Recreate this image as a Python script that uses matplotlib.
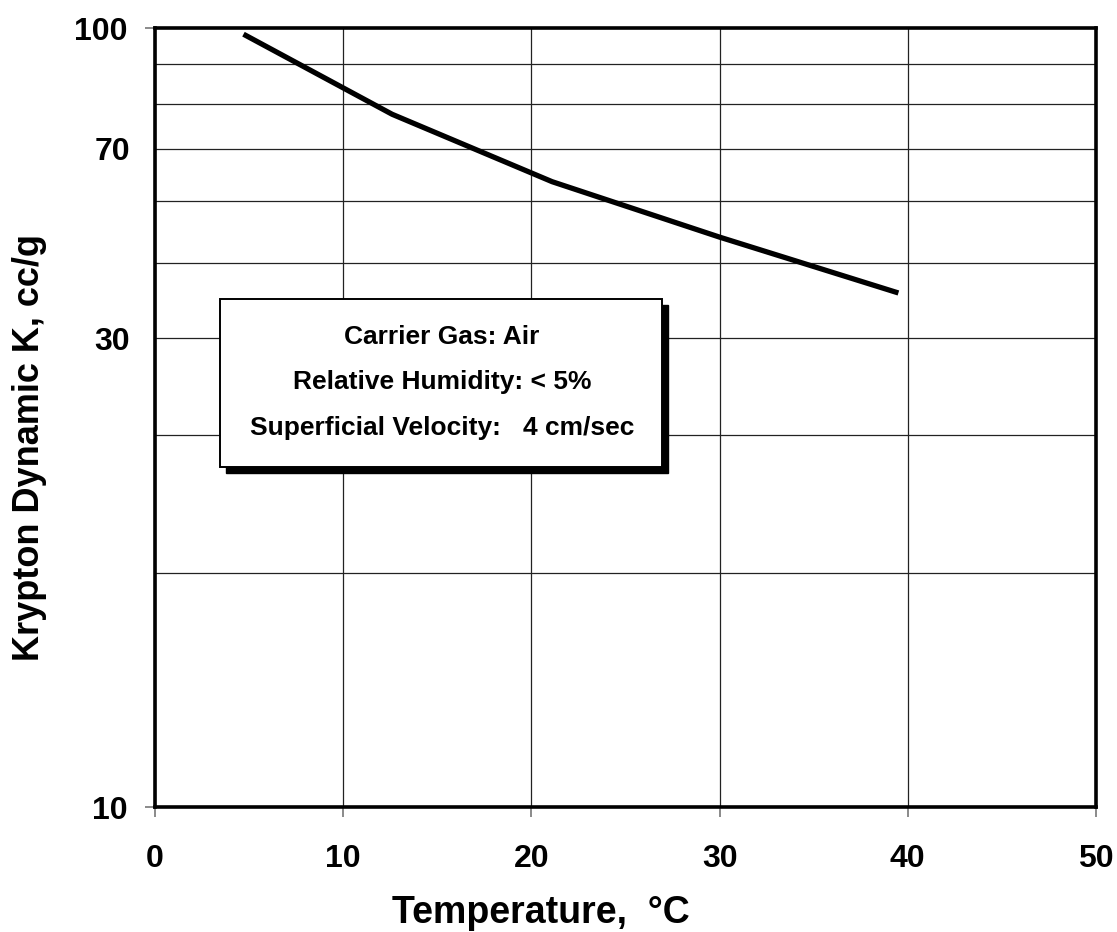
import matplotlib
matplotlib.use("Agg")
import matplotlib.pyplot as plt
from matplotlib.patches import Rectangle
from matplotlib.ticker import FixedLocator, FixedFormatter

plt.rcParams['font.family'] = ['Liberation Sans', 'DejaVu Sans']
plt.rcParams['font.weight'] = 'bold'

# curve
temperature = [4.7, 12.6, 21.1, 30.0, 39.5]
k_dynamic = [98.2, 77.5, 63.5, 53.9, 45.7]

x_ticks = [0, 10, 20, 30, 40, 50]
y_grid = [20, 30, 40, 50, 60, 70, 80, 90]
# the original sheet labels the 40 line as "30"
y_label_pos = [40, 70]
y_label_txt = ['30', '70']

box_lines = ['Carrier Gas: Air',
             'Relative Humidity: < 5%',
             'Superficial Velocity:   4 cm/sec']

fig = plt.figure(figsize=(11.17, 9.32), dpi=100)
ax = fig.add_axes([0.1388, 0.1341, 0.8424, 0.8358])

ax.plot(temperature, k_dynamic, color='black', lw=3.8, zorder=3,
        solid_capstyle='butt')

ax.set_yscale('log')
ax.set_xlim(0, 50)
ax.set_ylim(10, 100)

ax.set_xticks(x_ticks)
ax.set_xticklabels([str(t) for t in x_ticks])
ax.set_yticks([10, 100])
ax.set_yticklabels(['10', '100'])
ax.yaxis.set_minor_locator(FixedLocator(y_grid))
ax.yaxis.set_minor_formatter(FixedFormatter(
    [y_label_txt[y_label_pos.index(v)] if v in y_label_pos else '' for v in y_grid]))

ax.tick_params(axis='both', which='major', direction='out', length=7.5,
               width=1.2, color='#777777', labelsize=23)
ax.tick_params(axis='x', which='major', pad=19)
ax.tick_params(axis='y', which='major', pad=12)
ax.tick_params(axis='y', which='minor', length=0, labelsize=23, pad=18)

for lbl in ax.get_xticklabels() + ax.get_yticklabels() + ax.get_yticklabels(minor=True):
    lbl.set_fontweight('bold')

ax.grid(True, which='minor', axis='y', color='#222222', lw=0.9)
ax.grid(True, which='major', axis='x', color='#222222', lw=0.9)

for sp in ax.spines.values():
    sp.set_linewidth(2.6)
    sp.set_zorder(4)

ax.set_xlabel('Temperature,  °C', fontsize=27, fontweight='bold', va='top')
ax.xaxis.set_label_coords(0.41, -0.1126)
ax.set_ylabel('Krypton Dynamic K, cc/g', fontsize=26, fontweight='bold', va='center')
ax.yaxis.set_label_coords(-0.133, 0.462)

# info box with drop shadow
bx0, by0, bw, bh = 0.069, 0.4365, 0.470, 0.2155
dx, dy = 6 / 941, 6 / 779
ax.add_patch(Rectangle((bx0 + dx, by0 - dy), bw, bh, transform=ax.transAxes,
                       facecolor='black', edgecolor='black', zorder=5))
ax.add_patch(Rectangle((bx0, by0), bw, bh, transform=ax.transAxes,
                       facecolor='white', edgecolor='black', lw=1.4, zorder=6))
for txt, yy in zip(box_lines, [0.603, 0.5456, 0.4865]):
    ax.text(0.305, yy, txt, transform=ax.transAxes, ha='center', va='center',
            fontsize=19, fontweight='bold', zorder=7)

fig.savefig('out.png', dpi=100)
